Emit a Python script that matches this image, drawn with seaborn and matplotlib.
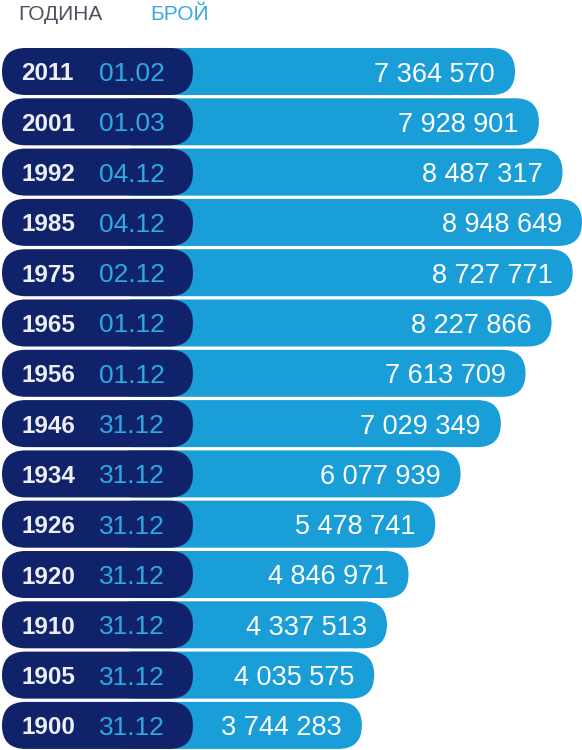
"""Население по преброявания: хоризонтални ленти с заоблени краища."""

import matplotlib

matplotlib.use("Agg")
import matplotlib.pyplot as plt
import pandas as pd
import seaborn as sns
from matplotlib.patches import FancyBboxPatch

GODINI = ["2011", "2001", "1992", "1985", "1975", "1965", "1956",
          "1946", "1934", "1926", "1920", "1910", "1905", "1900"]
DATI = ["01.02", "01.03", "04.12", "04.12", "02.12", "01.12", "01.12",
        "31.12", "31.12", "31.12", "31.12", "31.12", "31.12", "31.12"]
BROI = [7364570, 7928901, 8487317, 8948649, 8727771, 8227866, 7613709,
        7029349, 6077939, 5478741, 4846971, 4337513, 4035575, 3744283]

TAMNO = "#10226a"
SVETLO = "#1a9ed8"
DATA_CVYAT = "#2eaae2"
SIVO = "#4d525e"

# мащаб: пиксели на милион и начало на скалата (в пиксели от левия край)
PX_NA_MLN = 42.3
NULA_PX = 203.5
SHIRINA_PX, VISOCHINA_PX = 582, 750
PURVI_RED_PX = 71.5
STUPKA_PX = 50.3
VISOCHINA_LENTA = 0.935


def px_x(px: float) -> float:
    return (px - NULA_PX) / PX_NA_MLN


df = pd.DataFrame({"godina": GODINI, "data": DATI, "mln": [b / 1e6 for b in BROI]})

sns.set_theme(style="white")
plt.rcParams["font.family"] = ["Liberation Sans", "DejaVu Sans"]

fig = plt.figure(figsize=(SHIRINA_PX / 100, VISOCHINA_PX / 100), dpi=100)
ax = fig.add_axes([0, 0, 1, 1])
sns.barplot(data=df, x="mln", y="godina", orient="h", color=SVETLO,
            width=VISOCHINA_LENTA, ax=ax)

ax.set_xlim(px_x(0), px_x(SHIRINA_PX))
ax.set_ylim((VISOCHINA_PX - PURVI_RED_PX) / STUPKA_PX, -PURVI_RED_PX / STUPKA_PX)
ax.axis("off")

# съотношение между мащабите, за да са кръгли краищата
aspekt = PX_NA_MLN / STUPKA_PX
radius = VISOCHINA_LENTA / 2 / aspekt

lenti = list(ax.patches)
for lenta, red in zip(lenti, df.itertuples()):
    y0 = min(lenta.get_y(), lenta.get_y() + lenta.get_height())
    h = abs(lenta.get_height())
    kraj = lenta.get_x() + lenta.get_width()
    lenta.remove()

    start = px_x(110)
    ax.add_patch(FancyBboxPatch((start, y0), kraj - start, h,
                                boxstyle=f"round,pad=0,rounding_size={radius}",
                                mutation_aspect=aspekt, fc=SVETLO, ec="none", zorder=2))
    tl, td = px_x(2), px_x(193)
    ax.add_patch(FancyBboxPatch((tl, y0), td - tl, h,
                                boxstyle=f"round,pad=0,rounding_size={radius}",
                                mutation_aspect=aspekt, fc=TAMNO, ec="none", zorder=3))

    yc = y0 + h / 2
    ax.text(px_x(21), yc, red.godina, color="#eceef4", fontsize=17.5,
            fontweight="bold", ha="left", va="center_baseline", zorder=4)
    ax.text(px_x(99), yc, red.data, color=DATA_CVYAT, fontsize=19,
            ha="left", va="center_baseline", zorder=4)
    chislo = f"{int(round(red.mln * 1e6)):,}".replace(",", " ")
    ax.text(kraj - 20 / PX_NA_MLN, yc, chislo, color="white", fontsize=19.5,
            ha="right", va="center_baseline", zorder=4)

fig.text(18 / SHIRINA_PX, 1 - 15 / VISOCHINA_PX, "ГОДИНА", color=SIVO,
         fontsize=15, ha="left", va="center")
fig.text(150 / SHIRINA_PX, 1 - 15 / VISOCHINA_PX, "БРОЙ", color="#3aa8de",
         fontsize=15, ha="left", va="center")

fig.savefig("out.png", dpi=100)
